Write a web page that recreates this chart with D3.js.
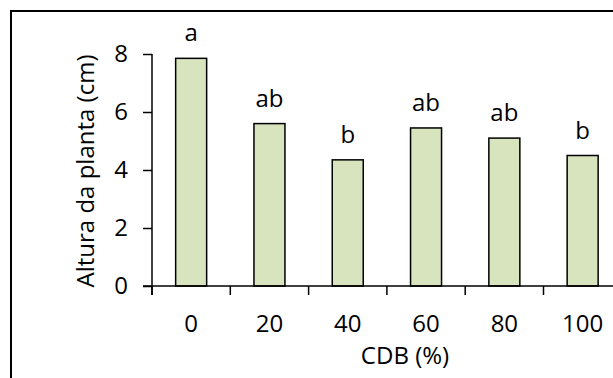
<!DOCTYPE html>
<html>
<head>
<meta charset="utf-8">
<script src="https://cdn.jsdelivr.net/npm/d3@7/dist/d3.min.js"></script>
<style>
  html, body { margin: 0; padding: 0; background: #fff; }
  svg { display: block; }
  text { font-family: "Open Sans", "Noto Sans", sans-serif; fill: #000; }
</style>
</head>
<body>
<svg id="chart" width="613" height="378"></svg>
<script>
// Plant height by CDB percentage
const categories = ["0", "20", "40", "60", "80", "100"];
const heights = [7.85, 5.6, 4.35, 5.45, 5.1, 4.5];
const letters = ["a", "ab", "b", "ab", "ab", "b"];
const yTicks = [0, 2, 4, 6, 8];

const svg = d3.select("#chart");
const W = 613, H = 378;
const FS = 24;
const FONT = "Open Sans, Noto Sans, sans-serif";

// outer frame
svg.append("rect")
  .attr("x", 11).attr("y", 11)
  .attr("width", W + 20).attr("height", H + 20)
  .attr("fill", "none").attr("stroke", "#000").attr("stroke-width", 2);

const left = 152, zeroY = 286, topY = 54;
const x = d3.scaleBand().domain(categories).range([left, left + 6 * 78.3]).padding(0);
const y = d3.scaleLinear().domain([0, 8]).range([zeroY, topY]);

const barW = 31;

// bars
svg.append("g").selectAll("rect")
  .data(categories)
  .join("rect")
  .attr("x", (d) => x(d) + x.bandwidth() / 2 - barW / 2)
  .attr("y", (d, i) => y(heights[i]))
  .attr("width", barW)
  .attr("height", (d, i) => y(0) - y(heights[i]))
  .attr("fill", "#d7e4bd")
  .attr("stroke", "#000")
  .attr("stroke-width", 1.5);

// significance letters
svg.append("g").selectAll("text")
  .data(categories)
  .join("text")
  .attr("x", (d) => x(d) + x.bandwidth() / 2)
  .attr("y", (d, i) => y(heights[i]) - 17)
  .attr("text-anchor", "middle")
  .attr("font-size", FS)
  .text((d, i) => letters[i]);

// y axis
const yAxis = svg.append("g")
  .attr("transform", `translate(${left},0)`)
  .call(d3.axisLeft(y).tickValues(yTicks).tickFormat(d3.format("d")).tickSize(9).tickPadding(15));
yAxis.select(".domain").attr("d", `M0,${topY}V${zeroY + 9}`);
yAxis.selectAll("line, path").attr("stroke", "#000").attr("stroke-width", 1.5);
yAxis.selectAll("text").attr("font-size", FS).attr("font-family", FONT);

// x axis: tick marks at category boundaries, labels centred under bars
const xAxis = svg.append("g")
  .attr("transform", `translate(0,${zeroY})`)
  .call(d3.axisBottom(x).tickSize(0).tickPadding(29));
xAxis.select(".domain").attr("d", `M${left - 9},0H${W + 10}`)
  .attr("stroke", "#000").attr("stroke-width", 1.5);
xAxis.selectAll("text").attr("font-size", FS).attr("font-family", FONT);
xAxis.append("g").selectAll("line")
  .data(categories)
  .join("line")
  .attr("x1", (d) => x(d)).attr("x2", (d) => x(d))
  .attr("y1", 0).attr("y2", 9)
  .attr("stroke", "#000").attr("stroke-width", 1.5);

// axis titles
svg.append("text")
  .attr("transform", `translate(94,171) rotate(-90)`)
  .attr("text-anchor", "middle")
  .attr("font-size", FS)
  .text("Altura da planta (cm)");

svg.append("text")
  .attr("x", 405)
  .attr("y", 364)
  .attr("text-anchor", "middle")
  .attr("font-size", FS)
  .text("CDB (%)");
</script>
</body>
</html>
